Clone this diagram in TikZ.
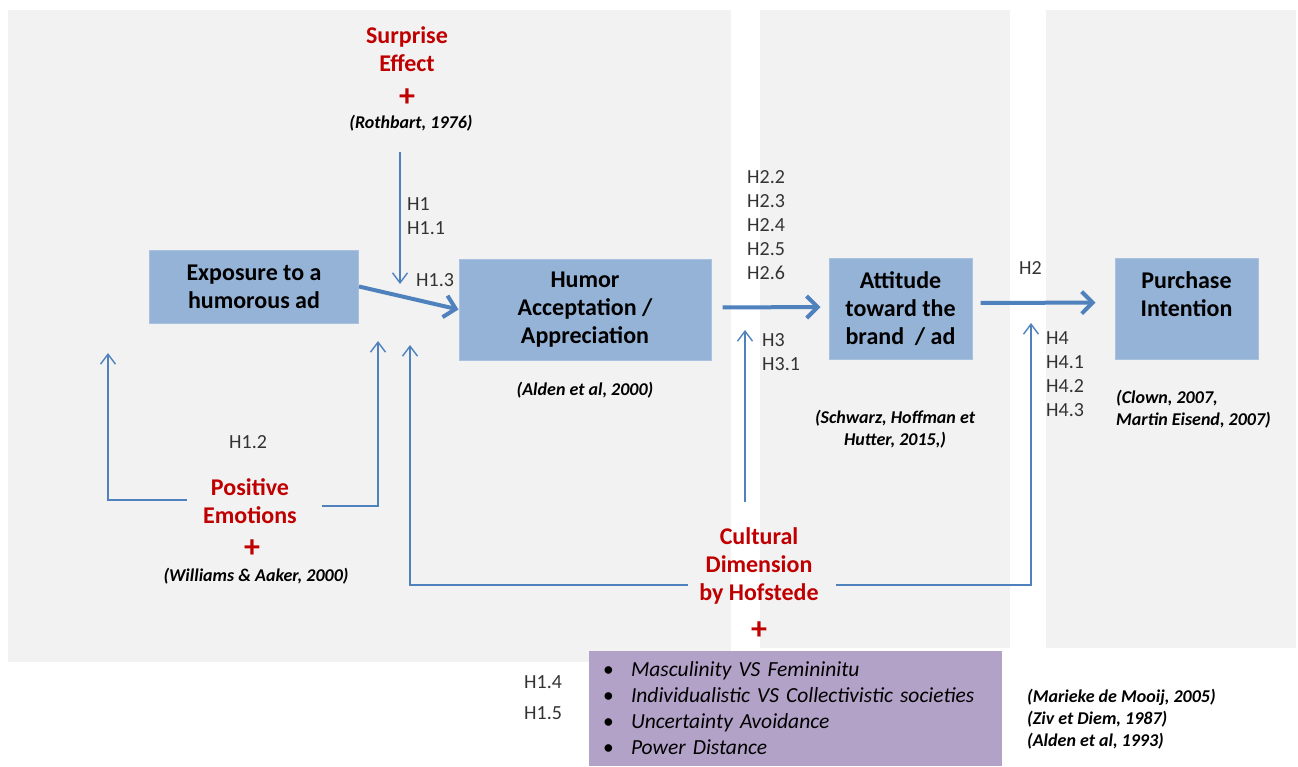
\documentclass[tikz,border=0pt]{standalone}
\usepackage{fontspec}
\setmainfont{Carlito}
\usepackage{tikz}
\usetikzlibrary{arrows.meta}
\definecolor{humorgray}{HTML}{F2F2F2}
\definecolor{humorblue}{HTML}{95B3D7}
\definecolor{humoredge}{HTML}{A9C2E0}
\definecolor{humorline}{HTML}{4F81BD}
\definecolor{humorred}{HTML}{C00000}
\definecolor{humorlilac}{HTML}{B3A2C7}
\tikzset{
  humorpicture/.style={x=1pt, y=-1pt},
  humorpanel/.style={fill=humorgray, draw=none},
  humorbox/.style={draw=humoredge, line width=1pt, fill=humorblue, align=center, font=\bfseries\fontsize{24}{28}\selectfont, inner sep=0pt},
  humorfactor/.style={text=humorred, align=center, font=\bfseries\fontsize{24}{28}\selectfont, inner sep=0pt},
  humorplus/.style={text=humorred, font=\bfseries\fontsize{32}{32}\selectfont, inner sep=0pt},
  humorcite/.style={align=center, font=\bfseries\itshape\fontsize{18}{22}\selectfont, inner sep=0pt},
  humorhyp/.style={anchor=west, align=left, text=black!80, font=\fontsize{20}{24}\selectfont, inner sep=0pt},
  humorlist/.style={fill=humorlilac, align=left, font=\itshape\fontsize{21.5}{26}\selectfont, text width=385pt, minimum width=409pt, minimum height=115pt, inner xsep=14pt, inner ysep=0pt},
  humorthick/.style={-{Straight Barb[length=11pt,width=22pt]}, line width=4pt, draw=humorline},
  humorthin/.style={-{Straight Barb[length=10pt,width=15pt]}, line width=1.4pt, draw=humorline}
}
\newcommand{\humorbullet}{\makebox[28pt][l]{\upshape\textbullet}}

\begin{document}
\begin{tikzpicture}[humorpicture]
\useasboundingbox (0,0) rectangle (1298,766);
% background panels
\fill[humorpanel] (8,10) rectangle (731,662);
\fill[humorpanel] (760,10) rectangle (1010,648);
\fill[humorpanel] (1046,10) rectangle (1296,648);

% main constructs
\node[humorbox, minimum width=209pt, minimum height=73pt] (exposure) at (254,286.5) {Exposure to a\\humorous ad};
\node[humorbox, minimum width=252pt, minimum height=101pt] (humor) at (585,309.5) {Humor\\Acceptation /\\Appreciation};
\node[humorbox, minimum width=143pt, minimum height=101pt] (attitude) at (900.5,309) {Attitude\\toward the\\brand\ \ / ad};
\node[humorbox, minimum width=143pt, minimum height=101pt] (purchase) at (1186.5,308.5) {Purchase\\Intention\\\mbox{}};

% moderators
\node[humorfactor] (surprise) at (407,49) {Surprise\\Effect};
\node[humorplus] (surpriseplus) at (407,98) {+};
\node[humorcite] (rothbart) at (411,123) {(Rothbart, 1976)};
\node[humorfactor] (posemo) at (250,501) {Positive\\Emotions};
\node[humorplus] (posemoplus) at (252,549) {+};
\node[humorcite] (williams) at (256,576) {(Williams \& Aaker, 2000)};
\node[humorfactor] (culture) at (759,566) {Cultural\\Dimension\\by Hofstede};
\node[humorplus] (cultureplus) at (759,631) {+};

% citations
\node[humorcite] (alden) at (585,390) {(Alden et al, 2000)};
\node[humorcite] (schwarz) at (895,429) {(Schwarz, Hoffman et\\Hutter, 2015,)};
\node[humorcite, align=left, anchor=west] (clown) at (1116,409) {(Clown, 2007,\\Martin Eisend, 2007)};
\node[humorcite, align=left, anchor=west] (mooij) at (1027,719) {(Marieke de Mooij, 2005)\\(Ziv et Diem, 1987)\\(Alden et al, 1993)};

% hypotheses
\node[humorhyp] (hone) at (407,216) {H1\\H1.1};
\node[humorhyp] (honethree) at (416,280) {H1.3};
\node[humorhyp] (honetwo) at (229,442) {H1.2};
\node[humorhyp] (hhtwo) at (747,225) {H2.2\\H2.3\\H2.4\\H2.5\\H2.6};
\node[humorhyp] (hthree) at (762,352) {H3\\H3.1};
\node[humorhyp] (htwo) at (1019,268) {H2};
\node[humorhyp] (hfour) at (1046,374) {H4\\H4.1\\H4.2\\H4.3};
\node[humorhyp] (honefour) at (524,682) {H1.4};
\node[humorhyp] (honefive) at (524,713) {H1.5};

% dimensions list
\node[humorlist] (dimensions) at (795.5,708.5) {\humorbullet Masculinity VS Femininitu\\\humorbullet Individualistic VS Collectivistic societies\\\humorbullet Uncertainty Avoidance\\\humorbullet Power Distance};

% connector end points
\coordinate (surprisefrom) at (400,152);
\coordinate (surpriseto) at (400,284);
\coordinate (posemoleft) at (187,500);
\coordinate (posemoup) at (108,353);
\coordinate (posemoright) at (322,506);
\coordinate (posemotip) at (378,341);
\coordinate (cultureleft) at (688,585);
\coordinate (culturetip) at (410,345);
\coordinate (culturemid) at (745,502);
\coordinate (culturemidtip) at (745,330);
\coordinate (cultureright) at (836,585);
\coordinate (culturerighttip) at (1031,323);

% main path
\draw[humorthick] (exposure.east) -- (humor.west);
\draw[humorthick, shorten <=11pt, shorten >=8pt] ([yshift=2pt]humor.east) -- ([yshift=2pt]attitude.west);
\draw[humorthick, shorten <=8pt, shorten >=19pt] ([yshift=6pt]attitude.east) -- ([yshift=6pt]purchase.west);

% moderating effects
\draw[humorthin] (surprisefrom) -- (surpriseto);
\draw[humorthin] (posemoleft) -| (posemoup);
\draw[humorthin] (posemoright) -| (posemotip);
\draw[humorthin] (cultureleft) -| (culturetip);
\draw[humorthin] (culturemid) -- (culturemidtip);
\draw[humorthin] (cultureright) -| (culturerighttip);
\end{tikzpicture}
\end{document}
